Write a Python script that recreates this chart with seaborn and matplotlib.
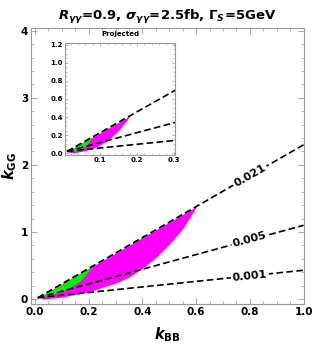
import numpy as np
import pandas as pd
import matplotlib
matplotlib.use("Agg")
import matplotlib.pyplot as plt
import seaborn as sns
from matplotlib.ticker import AutoMinorLocator, MultipleLocator

# contour lines (straight), endpoints
line_labels = ["0.021", "0.005", "0.001"]
line_x = [0.01, 1.0]
line_y = {"0.021": [0.02, 2.30], "0.005": [0.02, 1.10], "0.001": [0.02, 0.43]}
label_x = 0.80

# allowed regions, main panel (lower edges; upper edge is the 0.021 line)
mag_x = [0.02, 0.03, 0.1, 0.2, 0.3, 0.35, 0.4, 0.45, 0.5, 0.55, 0.6]
mag_lo = [0.02, 0.0, 0.03, 0.11, 0.24, 0.33, 0.46, 0.62, 0.82, 1.05, 1.37]
grn_x = [0.02, 0.105, 0.166, 0.209]
grn_lo = [0.02, 0.12, 0.26, 0.46]

# projected (inset)
pmag_x = [0.012, 0.03, 0.06, 0.09, 0.12, 0.15, 0.181]
pmag_lo = [0.01, 0.005, 0.03, 0.07, 0.14, 0.25, 0.41]
pgrn_x = [0.012, 0.04, 0.06, 0.08]
pgrn_lo = [0.012, 0.035, 0.075, 0.18]

sns.set_theme(style="ticks")
plt.rcParams.update({
    "font.family": ["DejaVu Sans"],
    "font.weight": "bold",
    "text.color": "black",
    "mathtext.fontset": "dejavusans",
    "xtick.direction": "in",
    "ytick.direction": "in",
    "xtick.top": True,
    "ytick.right": True,
    "xtick.color": "#999999",
    "ytick.color": "#999999",
    "xtick.labelcolor": "black",
    "ytick.labelcolor": "black",
    "axes.labelcolor": "black",
    "axes.edgecolor": "#999999",
    "axes.linewidth": 0.8,
})

df = pd.concat([pd.DataFrame({"kBB": line_x, "kGG": line_y[k], "c": k}) for k in line_labels])


def upper(x):
    x0, x1 = line_x
    y0, y1 = line_y["0.021"]
    return y0 + (np.asarray(x) - x0) * (y1 - y0) / (x1 - x0)


def draw(ax, mx, mlo, gx, glo, labels, fs):
    xm = np.linspace(mx[0], mx[-1], 120)
    ax.fill_between(xm, np.interp(xm, mx, mlo), upper(xm), color="#ff00ff", lw=0, zorder=1)
    xg = np.linspace(gx[0], gx[-1], 60)
    ax.fill_between(xg, np.interp(xg, gx, glo), upper(xg), color="#00ee00", lw=0, zorder=1.5)
    sns.lineplot(data=df, x="kBB", y="kGG", units="c", estimator=None, color="black",
                 lw=1.2, ls=(0, (4, 2)), ax=ax, legend=False, zorder=2)
    ax.set_xlabel("")
    ax.set_ylabel("")
    if labels:
        for k in line_labels:
            y = np.interp(label_x, line_x, line_y[k])
            p0 = ax.transData.transform((line_x[0], line_y[k][0]))
            p1 = ax.transData.transform((line_x[1], line_y[k][1]))
            ang = np.degrees(np.arctan2(p1[1] - p0[1], p1[0] - p0[0]))
            ax.text(label_x, y, k, rotation=ang, rotation_mode="anchor", ha="center",
                    va="center", fontsize=fs, fontweight="bold", color="black", zorder=5,
                    bbox=dict(boxstyle="square,pad=0.15", fc="white", ec="none"))


fig = plt.figure(figsize=(3.13, 3.46), dpi=100)
ax = fig.add_axes([0.099, 0.121, 0.871, 0.798])
ax.set_xlim(-0.015, 1.0)
ax.set_ylim(-0.075, 4.04)
ax.xaxis.set_major_locator(MultipleLocator(0.2))
ax.yaxis.set_major_locator(MultipleLocator(1))
ax.xaxis.set_minor_locator(AutoMinorLocator(4))
ax.yaxis.set_minor_locator(AutoMinorLocator(5))
ax.tick_params(which="major", length=4, width=0.6, labelsize=7.5, pad=2)
ax.tick_params(which="minor", length=2, width=0.5)
draw(ax, mag_x, mag_lo, grn_x, grn_lo, True, 8)
ax.set_xlabel(r"$\boldsymbol{k}_{\mathbf{BB}}$", fontsize=10.5, labelpad=6)
ax.set_ylabel(r"$\boldsymbol{k}_{\mathbf{GG}}$", fontsize=10.5)
ax.yaxis.set_label_coords(-0.045, 0.5)
ax.set_title(r"$\boldsymbol{R}_{\boldsymbol{\gamma\gamma}}$=0.9, $\boldsymbol{\sigma}_{\boldsymbol{\gamma\gamma}}$=2.5fb, $\mathbf{\Gamma}_{\boldsymbol{S}}$=5GeV",
             fontsize=9.5, fontweight="bold", pad=6)

ins = fig.add_axes([0.208, 0.552, 0.351, 0.324])
ins.set_xlim(0.005, 0.303)
ins.set_ylim(-0.02, 1.22)
ins.xaxis.set_major_locator(MultipleLocator(0.1))
ins.yaxis.set_major_locator(MultipleLocator(0.2))
ins.xaxis.set_minor_locator(AutoMinorLocator(5))
ins.yaxis.set_minor_locator(AutoMinorLocator(4))
ins.tick_params(which="major", length=2.5, width=0.5, labelsize=5, pad=1.5)
ins.tick_params(which="minor", length=1.2, width=0.4)
draw(ins, pmag_x, pmag_lo, pgrn_x, pgrn_lo, False, 5)
ins.set_title("Projected", fontsize=5, fontweight="bold", pad=5)
ins.patch.set_facecolor("white")

fig.savefig("out.png", dpi=100)
